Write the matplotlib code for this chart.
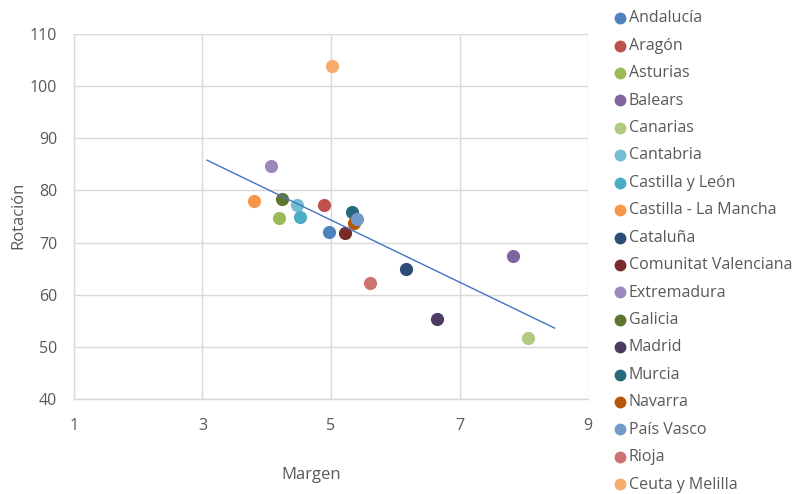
import matplotlib.pyplot as plt
import numpy as np

plt.rcParams["font.family"] = ["Open Sans", "DejaVu Sans"]
plt.rcParams["text.color"] = "#595959"
plt.rcParams["axes.labelcolor"] = "#595959"
plt.rcParams["xtick.color"] = "#595959"
plt.rcParams["ytick.color"] = "#595959"

# Data
regions = ["Andalucía", "Aragón", "Asturias", "Balears", "Canarias", "Cantabria",
           "Castilla y León", "Castilla - La Mancha", "Cataluña", "Comunitat Valenciana",
           "Extremadura", "Galicia", "Madrid", "Murcia", "Navarra", "País Vasco",
           "Rioja", "Ceuta y Melilla"]
margen = [4.97, 4.89, 4.19, 7.84, 8.07, 4.47, 4.52, 3.80, 6.16, 5.22,
          4.07, 4.24, 6.65, 5.33, 5.36, 5.41, 5.60, 5.02]
rotacion = [72.0, 77.2, 74.7, 67.4, 51.7, 77.2, 74.9, 78.0, 64.9, 71.8,
            84.7, 78.4, 55.3, 75.9, 73.8, 74.5, 62.2, 103.9]
colors = ["#4F81BD", "#C0504D", "#9BBB59", "#8064A2", "#B0CB80", "#72BFD4",
          "#4BACC6", "#F79646", "#2C4D75", "#772C2A", "#9D87BF", "#5F7530",
          "#4D3B62", "#276A7C", "#B65708", "#729ACA", "#CD7371", "#F9AB6B"]

# trendline end points
trend_x = [3.07, 8.48]
trend_y = [85.8, 53.6]

fig = plt.figure(figsize=(7.97, 4.94), dpi=100)
ax = fig.add_axes([0.0928, 0.1923, 0.645, 0.7389])

for name, x, y, c in zip(regions, margen, rotacion, colors):
    ax.scatter(x, y, s=90, color=c, linewidths=0, label=name, zorder=3)

ax.plot(trend_x, trend_y, color="#4472C4", lw=1.0, zorder=4)

ax.set_xlim(1, 9)
ax.set_ylim(40, 110)
ax.set_xticks([1, 3, 5, 7, 9])
ax.set_yticks(np.arange(40, 111, 10))
ax.grid(True, color="#D9D9D9", lw=1.0)
ax.set_axisbelow(True)
for s in ["top", "right"]:
    ax.spines[s].set_visible(False)
for s in ["left", "bottom"]:
    ax.spines[s].set_color("#D9D9D9")
    ax.spines[s].set_linewidth(1.0)
ax.tick_params(axis="both", length=0, labelsize=11.5)
ax.tick_params(axis="x", pad=14)
ax.tick_params(axis="y", pad=12)

ax.set_xlabel("Margen", fontsize=12)
ax.set_ylabel("Rotación", fontsize=12)
ax.xaxis.set_label_coords(0.461, -0.186)
ax.yaxis.set_label_coords(-0.092, 0.504)

fig.legend(loc="upper left", bbox_to_anchor=(0.755, 1.0), frameon=False,
           fontsize=11.5, handletextpad=0.05, labelspacing=0.715, markerscale=0.9,
           borderaxespad=0.25, handlelength=1.0)

fig.savefig("out.png", dpi=100)
